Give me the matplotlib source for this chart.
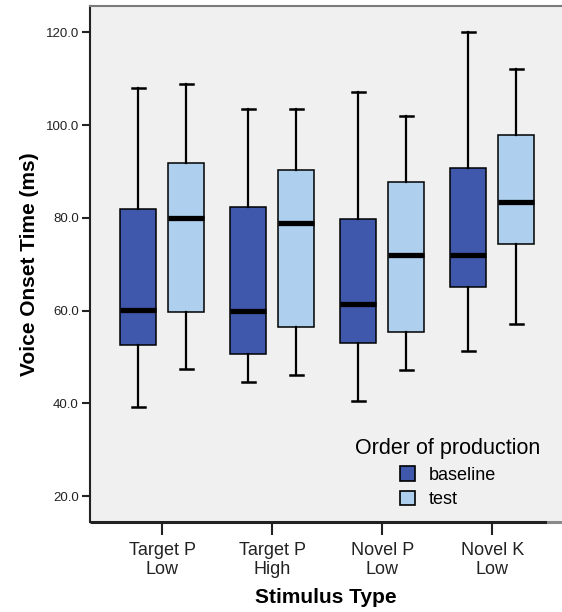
import matplotlib
matplotlib.use("Agg")
import matplotlib.pyplot as plt
from matplotlib.patches import Patch
import numpy as np

plt.rcParams['font.family'] = ['Liberation Sans', 'DejaVu Sans']

categories = ["Target P\nLow", "Target P\nHigh", "Novel P\nLow", "Novel K\nLow"]
series = ["baseline", "test"]

# five-number summaries: lower whisker, Q1, median, Q3, upper whisker
baseline_low = [39.2, 44.7, 40.6, 51.3]
baseline_q1 = [52.5, 50.6, 53.0, 65.2]
baseline_med = [60.2, 60.0, 61.4, 72.1]
baseline_q3 = [81.9, 82.4, 79.7, 90.8]
baseline_high = [108.0, 103.5, 107.1, 120.0]

test_low = [47.5, 46.2, 47.3, 57.2]
test_q1 = [59.8, 56.5, 55.5, 74.4]
test_med = [80.0, 79.0, 72.0, 83.4]
test_q3 = [91.9, 90.4, 87.7, 97.8]
test_high = [108.9, 103.5, 102.0, 112.1]

yticks = [20.0, 40.0, 60.0, 80.0, 100.0, 120.0]

colors = {"baseline": "#3f58ab", "test": "#aed0ee"}
bg = "#f0f0f0"

fig = plt.figure(figsize=(5.62, 6.12), dpi=100)
ax = fig.add_axes([90/562, 1-521.7/612, 1-90/562, (521.7-6)/612])
ax.set_facecolor(bg)

def stats(lo, q1, med, q3, hi):
    return [dict(whislo=a, q1=b, med=c, q3=d, whishi=e, fliers=[])
            for a, b, c, d, e in zip(lo, q1, med, q3, hi)]

x = np.arange(len(categories))
offset = 0.218
width = 0.327
for name, st, pos in [
    ("baseline", stats(baseline_low, baseline_q1, baseline_med, baseline_q3, baseline_high), x - offset),
    ("test", stats(test_low, test_q1, test_med, test_q3, test_high), x + offset),
]:
    ax.bxp(st, positions=pos, widths=width, capwidths=0.115, patch_artist=True,
           showfliers=False, manage_ticks=False,
           boxprops=dict(facecolor=colors[name], edgecolor="black", linewidth=1.1),
           medianprops=dict(color="black", linewidth=3.8, solid_capstyle="butt"),
           whiskerprops=dict(color="black", linewidth=1.6),
           capprops=dict(color="black", linewidth=1.8))

ax.set_xlim(-0.658, 3.633)
ax.set_ylim(14.5, 125.7)
ax.set_yticks(yticks)
ax.set_yticklabels([f"{v:.1f}" for v in yticks], fontsize=9.5)
ax.set_xticks(x)
ax.set_xticklabels(categories, fontsize=13, linespacing=1.2)
ax.tick_params(axis='y', direction='out', length=6, width=1.5, pad=2, colors="#222222")
ax.tick_params(axis='x', direction='out', length=9.5, width=1.5, pad=5, colors="#222222")

ax.spines["right"].set_visible(False)
ax.spines["top"].set_color("#7a7a7a")
ax.spines["top"].set_linewidth(1.5)
ax.spines["left"].set_linewidth(1.5)
ax.spines["left"].set_color("#222222")
ax.spines["bottom"].set_visible(False)
xb = (547 - 162.4) / 110
ax.plot([-0.658, xb], [14.5, 14.5], color="#222222", lw=2.2, clip_on=False, solid_capstyle="butt")
ax.plot([xb, 3.633], [14.5, 14.5], color="#8a8a8a", lw=2.2, clip_on=False, solid_capstyle="butt")

ax.set_ylabel("Voice Onset Time (ms)", fontsize=15, fontweight="bold", labelpad=5)
ax.set_xlabel("Stimulus Type", fontsize=15, fontweight="bold", labelpad=7)

handles = [Patch(facecolor=colors[s], edgecolor="black", linewidth=1.2, label=s) for s in series]
leg = ax.legend(handles=handles, title="Order of production", loc="center",
                bbox_to_anchor=(0.758, 0.094), frameon=False, fontsize=13,
                title_fontsize=15.5, handlelength=0.85, handleheight=0.85,
                handletextpad=0.75, labelspacing=0.38, borderpad=0.2)

fig.savefig("out.png", dpi=100, facecolor="white")
